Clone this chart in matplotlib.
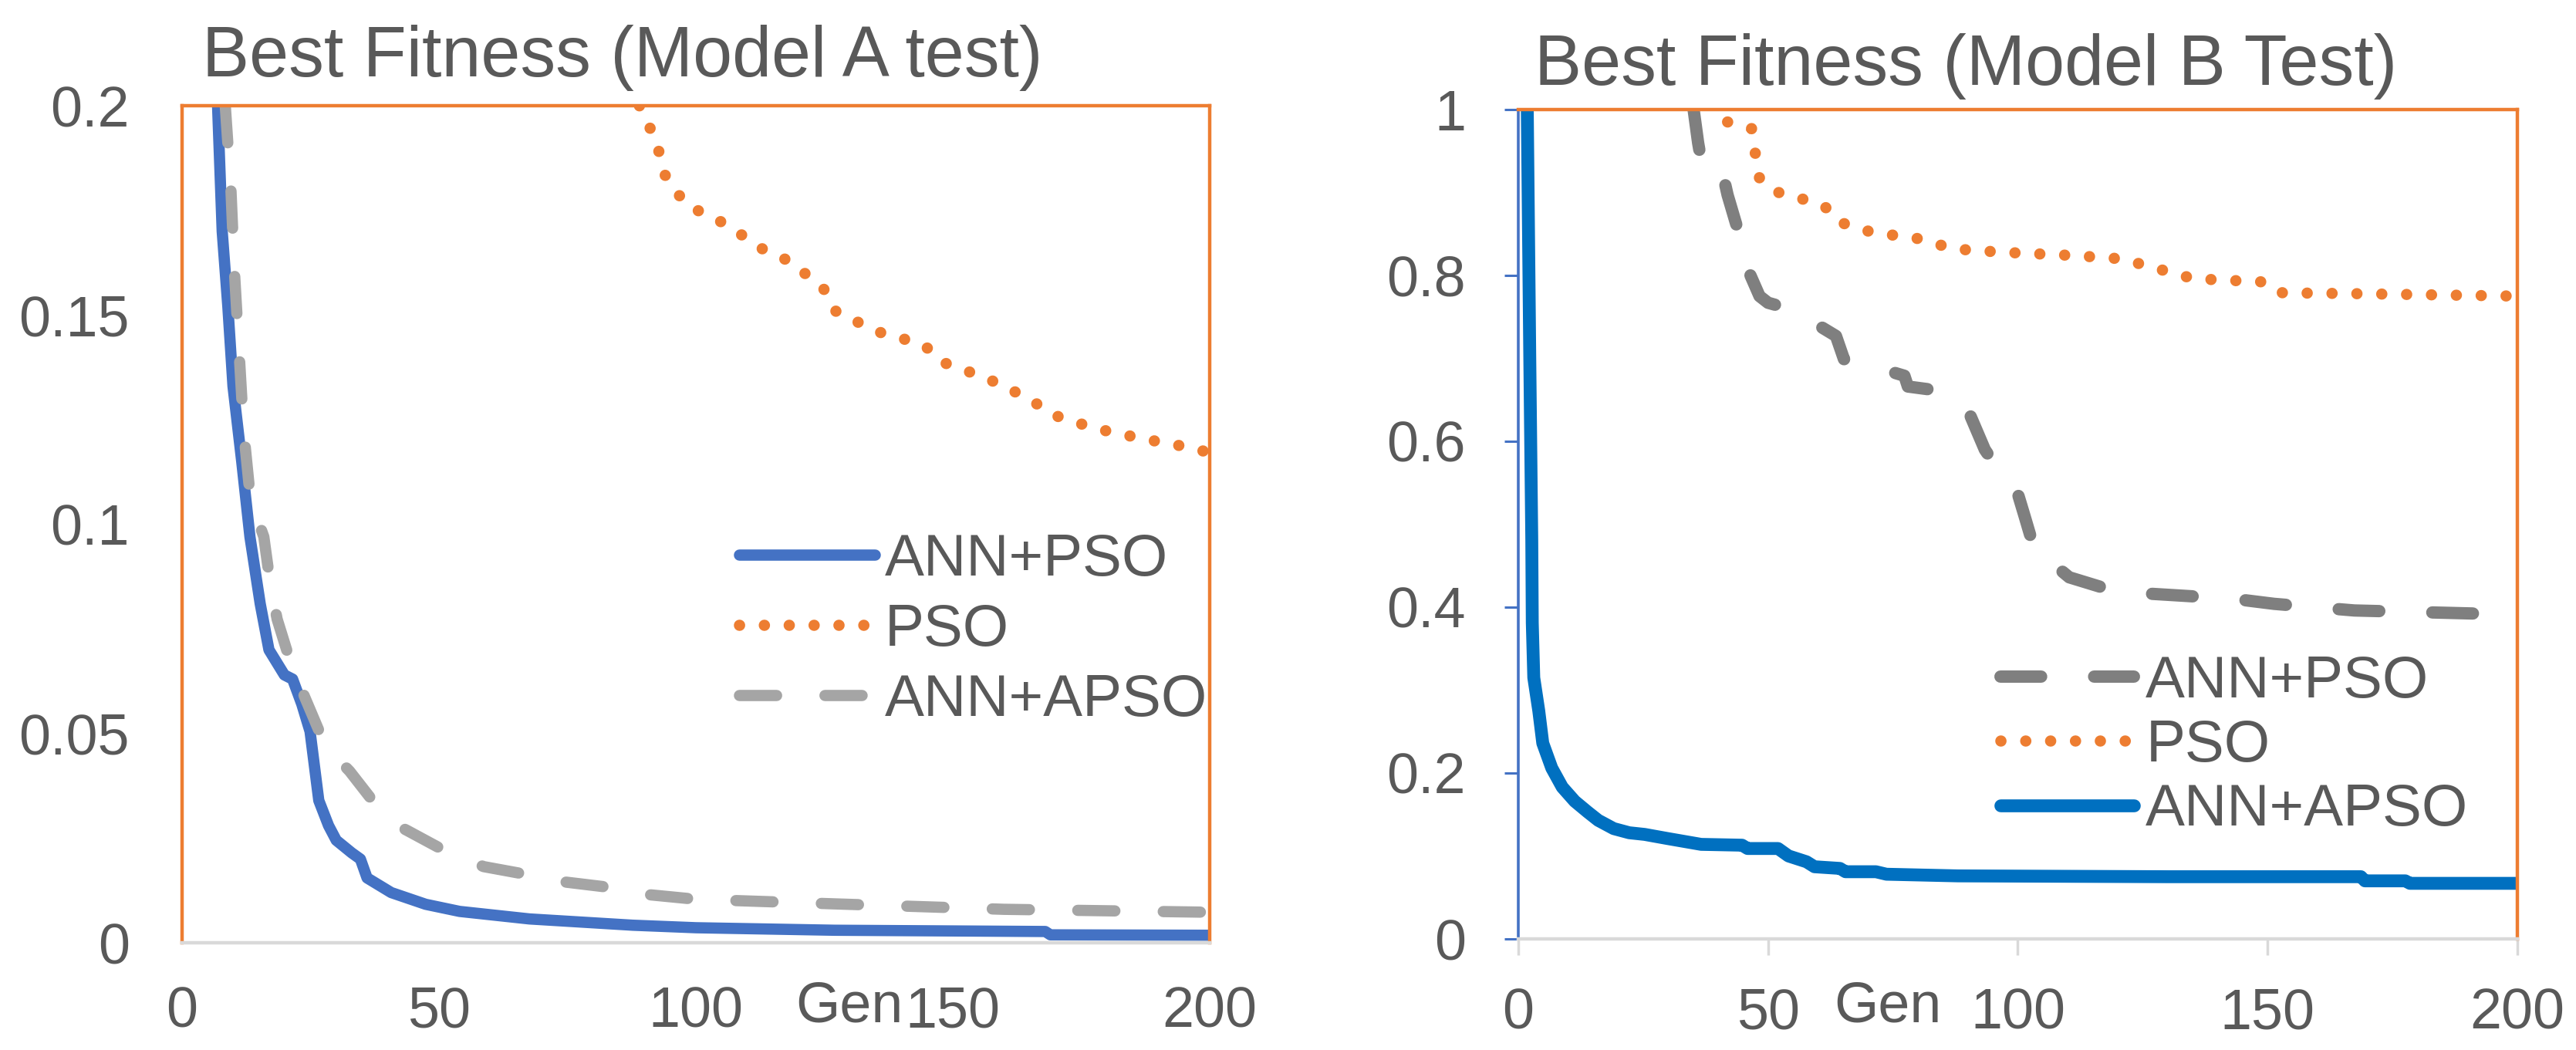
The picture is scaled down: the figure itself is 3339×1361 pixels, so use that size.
import numpy as np
import matplotlib
matplotlib.use("Agg")
import matplotlib.pyplot as plt
from matplotlib.ticker import FuncFormatter

plt.rcParams["font.family"] = ["Liberation Sans", "DejaVu Sans"]
TXT = "#595959"
ORANGE = "#ED7D31"

# ---------- Model A (left) ----------
a_annpso_x = [6.9, 7.8, 8.9, 9.9, 11.6, 13.2, 15.2, 16.9, 19.9, 21.5, 23.3, 24.9, 26.6, 28.5, 30, 33,
              34.7, 36, 40.7, 47.4, 54, 67.6, 87.7, 100, 127, 168, 169, 200]
a_annpso_y = [0.2, 0.17, 0.152, 0.133, 0.115, 0.097, 0.081, 0.070, 0.064, 0.063, 0.057, 0.0505, 0.034,
              0.028, 0.0245, 0.0215, 0.020, 0.0155, 0.012, 0.0092, 0.0075, 0.0057, 0.0042, 0.0036,
              0.0030, 0.0027, 0.0019, 0.0018]

a_pso_x = [89, 92.3, 93.9, 98, 106, 112.6, 118.3, 124.8, 127.3, 135.4, 144.4, 147.6, 156.6, 164.7,
           169.6, 177.7, 186.7, 197.2, 200]
a_pso_y = [0.2, 0.1915, 0.1836, 0.1764, 0.1716, 0.166, 0.1628, 0.1564, 0.1508, 0.146, 0.1429, 0.1389,
           0.1349, 0.1301, 0.1261, 0.1229, 0.1205, 0.1181, 0.117]

a_annapso_x = [8.4, 9.5, 10.2, 11, 12, 13.3, 15.9, 17.2, 18.5, 21.2, 23.9, 27.9, 32.6, 38, 42, 44,
               51.4, 58.7, 66.7, 74, 82.8, 90.8, 100, 127, 160, 200]
a_annapso_y = [0.2, 0.18, 0.16, 0.143, 0.122, 0.106, 0.097, 0.0854, 0.0773, 0.0666, 0.0586, 0.047,
               0.041, 0.0325, 0.028, 0.0267, 0.0218, 0.0182, 0.0164, 0.0146, 0.0133, 0.0115, 0.0104,
               0.0093, 0.008, 0.0073]

# ---------- Model B (right) ----------
b_annpso_x = [35.1, 36, 37, 41, 41.9, 44.3, 45.9, 48.3, 50, 54.7, 57, 63.6, 65.2, 68.4, 77.3, 78, 83,
              90, 93.4, 98, 100, 101.4, 103.8, 108.7, 110.3, 119, 127, 143.3, 151.3, 167.4, 200]
b_annpso_y = [1.0, 0.96, 0.925, 0.921, 0.897, 0.848, 0.808, 0.775, 0.767, 0.759, 0.751, 0.727, 0.699,
              0.695, 0.679, 0.666, 0.662, 0.638, 0.590, 0.549, 0.537, 0.509, 0.460, 0.444, 0.436,
              0.420, 0.416, 0.410, 0.404, 0.396, 0.391]

b_pso_x = [41.9, 46.7, 47.5, 48.3, 51.5, 56.4, 61.2, 64.4, 70.8, 80.5, 87, 96.6, 111, 120.8, 125.6,
           130.4, 135.2, 149.7, 153, 167.4, 200]
b_pso_y = [0.985, 0.977, 0.945, 0.917, 0.901, 0.893, 0.884, 0.864, 0.852, 0.844, 0.832, 0.828, 0.824,
           0.820, 0.812, 0.804, 0.796, 0.792, 0.779, 0.778, 0.775]

b_annapso_x = [1.8, 2.3, 2.7, 2.8, 3.1, 4.1, 4.9, 6.7, 8.8, 11.3, 13.9, 16, 19.1, 22.2, 25.3, 29.9,
               36.6, 44.8, 45.9, 52, 54.1, 57.7, 59.3, 64.4, 65.5, 71.6, 73.7, 88, 130, 168.7, 169.5,
               177.6, 178.5, 200]
b_annapso_y = [1.0, 0.7, 0.481, 0.381, 0.315, 0.275, 0.236, 0.206, 0.183, 0.166, 0.153, 0.143, 0.133,
               0.128, 0.126, 0.121, 0.114, 0.113, 0.109, 0.109, 0.100, 0.093, 0.087, 0.085, 0.081,
               0.081, 0.078, 0.076, 0.075, 0.075, 0.070, 0.070, 0.067, 0.067]

fig = plt.figure(figsize=(33.39, 13.61), dpi=100)
axA = fig.add_axes([0.0707, 0.1021, 0.3989, 0.7972])
axB = fig.add_axes([0.5894, 0.1058, 0.3878, 0.7899])

fmt = FuncFormatter(lambda v, p: f"{v:g}")


def dashed(ax, x, y, color, lw, label):
    ln, = ax.plot(x, y, color=color, lw=lw, label=label, dash_capstyle="round")
    ln.set_dashes((3.3, 4.3))
    return ln


def dotted(ax, x, y, lw, label):
    ln, = ax.plot(x, y, color=ORANGE, lw=lw, label=label, dash_capstyle="round")
    ln.set_dashes((0.01, 2.2))
    return ln


# left panel
axA.plot(a_annpso_x, a_annpso_y, color="#4472C4", lw=10.5, label="ANN+PSO",
         solid_capstyle="round", solid_joinstyle="round")
dotted(axA, a_pso_x, a_pso_y, 10.5, "PSO")
dashed(axA, a_annapso_x, a_annapso_y, "#A5A5A5", 10.5, "ANN+APSO")
axA.set_xlim(0, 200)
axA.set_ylim(0, 0.2)
axA.set_xticks([0, 50, 100, 150, 200])
axA.set_yticks([0, 0.05, 0.1, 0.15, 0.2])
axA.yaxis.set_major_formatter(fmt)
axA.tick_params(axis="both", length=0, labelsize=53, labelcolor=TXT)
axA.tick_params(axis="y", pad=49)
axA.tick_params(axis="x", pad=40)
for s in ["top", "right", "left"]:
    axA.spines[s].set_color(ORANGE)
    axA.spines[s].set_linewidth(3.2)
axA.spines["bottom"].set_color("#D9D9D9")
axA.spines["bottom"].set_linewidth(3.2)
axA.text(0.0195, 1.035, "Best Fitness (Model A test)", transform=axA.transAxes,
         ha="left", va="baseline", fontsize=66, color=TXT)
axA.text(0.649, -0.0765, "Gen", transform=axA.transAxes, ha="center", va="center",
         fontsize=53, color=TXT)
axA.legend(loc="center left", bbox_to_anchor=(0.542, 0.373), frameon=False, fontsize=55,
           handlelength=2.3, handletextpad=0.17, labelspacing=0.26, borderpad=0,
           borderaxespad=0, labelcolor=TXT)

# right panel
dashed(axB, b_annpso_x, b_annpso_y, "#7F7F7F", 11.5, "ANN+PSO")
dotted(axB, b_pso_x, b_pso_y, 10.5, "PSO")
axB.plot(b_annapso_x, b_annapso_y, color="#0070C0", lw=12, label="ANN+APSO",
         solid_capstyle="round", solid_joinstyle="round")
axB.set_xlim(0, 200)
axB.set_ylim(0, 1)
axB.set_xticks([0, 50, 100, 150, 200])
axB.set_yticks([0, 0.2, 0.4, 0.6, 0.8, 1])
axB.yaxis.set_major_formatter(fmt)
axB.tick_params(axis="both", labelsize=53, labelcolor=TXT, direction="out")
axB.tick_params(axis="y", length=13, width=2.2, color="#4472C4", pad=36)
axB.tick_params(axis="x", length=15, width=2.5, color="#D9D9D9", pad=30)
for s in ["top", "right"]:
    axB.spines[s].set_color(ORANGE)
    axB.spines[s].set_linewidth(3.2)
axB.spines["left"].set_color("#4472C4")
axB.spines["left"].set_linewidth(2.6)
axB.spines["bottom"].set_color("#D9D9D9")
axB.spines["bottom"].set_linewidth(3.2)
axB.text(0.016, 1.03, "Best Fitness (Model B Test)", transform=axB.transAxes,
         ha="left", va="baseline", fontsize=66, color=TXT)
axB.text(0.37, -0.082, "Gen", transform=axB.transAxes, ha="center", va="center",
         fontsize=53, color=TXT)
axB.legend(loc="center left", bbox_to_anchor=(0.483, 0.232), frameon=False, fontsize=55,
           handlelength=2.26, handletextpad=0.2, labelspacing=0.16, borderpad=0,
           borderaxespad=0, labelcolor=TXT)

fig.savefig("out.png", dpi=100)
